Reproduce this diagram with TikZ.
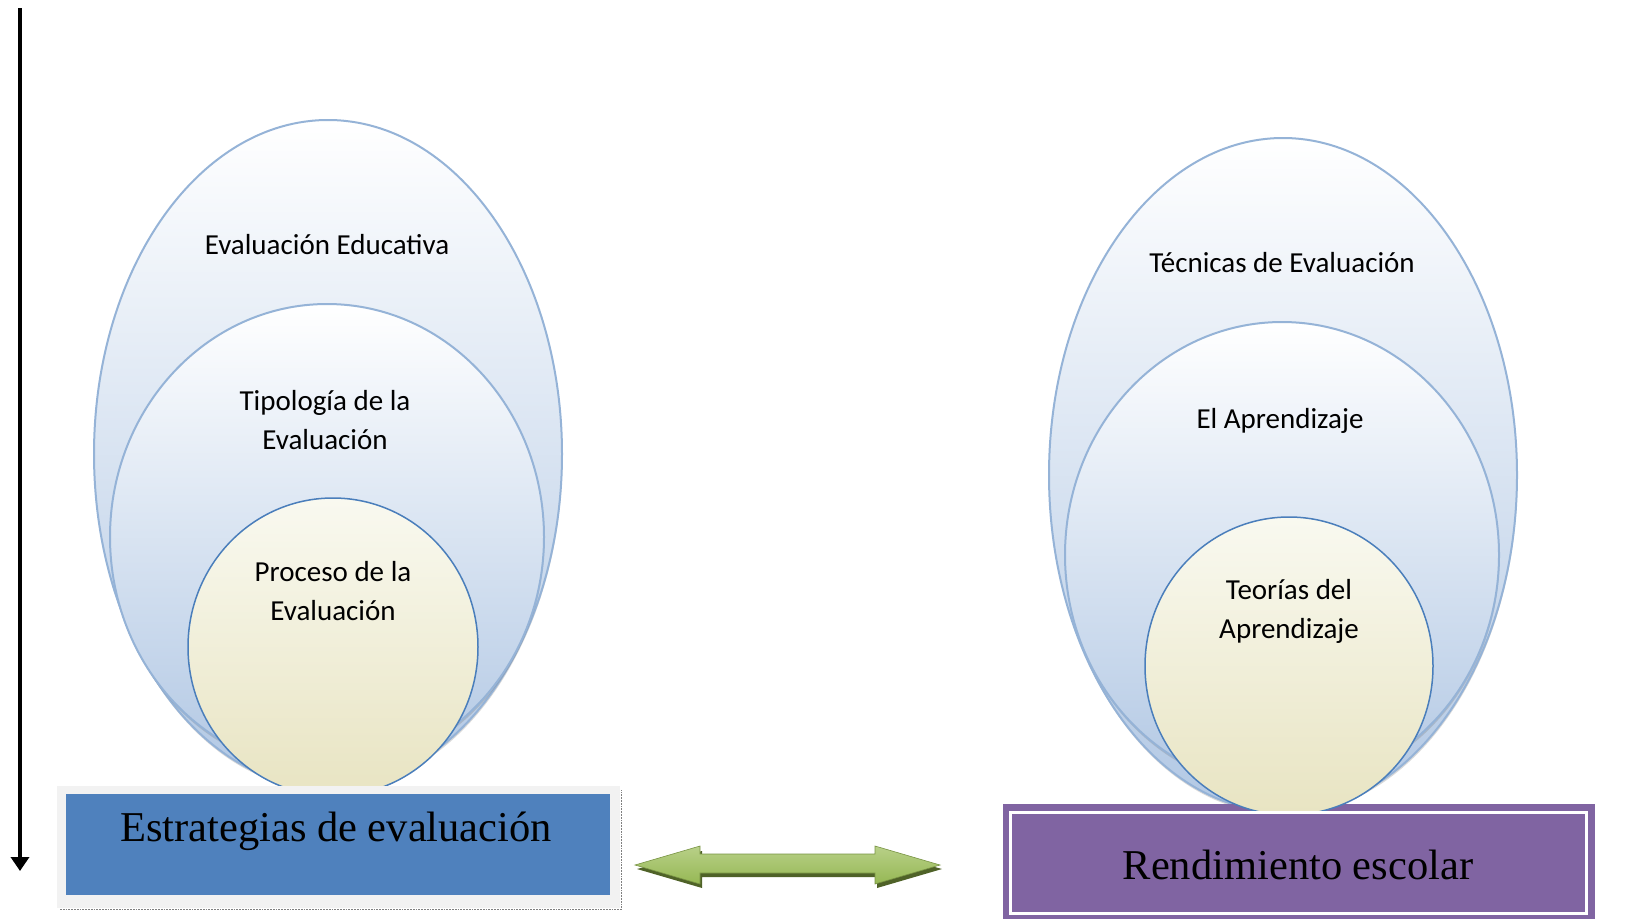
\documentclass[tikz,border=0pt]{standalone}
\usepackage{fontspec}
\setmainfont{Liberation Serif}
\newfontfamily\smartfont{Carlito}
\usetikzlibrary{shadows,arrows.meta}
\definecolor{ellstroke}{RGB}{149,179,215}
\definecolor{ellbot}{RGB}{178,200,228}
\definecolor{circtop}{RGB}{249,249,240}
\definecolor{circbot}{RGB}{232,228,194}
\definecolor{circstroke}{RGB}{74,126,187}
\definecolor{boxblue}{RGB}{79,129,189}
\definecolor{boxgray}{RGB}{242,242,242}
\definecolor{boxpurple}{RGB}{128,100,162}
\definecolor{arrlight}{RGB}{184,208,136}
\definecolor{arrmid}{RGB}{150,184,84}
\definecolor{arrdark}{RGB}{79,98,40}
\begin{document}
\begin{tikzpicture}[x=1pt,y=-1pt,
  ell/.style={draw=ellstroke,line width=2pt,top color=white,bottom color=ellbot,
    drop shadow={shadow xshift=0.5pt,shadow yshift=-2.5pt,opacity=0.3}},
  circ/.style={draw=circstroke,line width=1.5pt,top color=circtop,bottom color=circbot},
  lbl/.style={font=\smartfont\fontsize{29}{39}\selectfont,align=center,inner sep=0pt,anchor=base},
  big/.style={font=\fontsize{42.5}{50}\selectfont,inner sep=0pt,anchor=base},
  plainbox/.style={minimum width=#1,inner sep=0pt,outer sep=0pt}]
\useasboundingbox (0,0) rectangle (1636,919);
% vertical arrow
\coordinate (vtop) at (20,8);
\coordinate (vbot) at (20,871);
\draw[line width=4.8pt,-{Triangle[width=18pt,length=14pt]}] (vtop) -- (vbot);
% left stack
\path[ell] (328,454) ellipse [x radius=234pt, y radius=334pt];
\path[ell] (327,537) ellipse [x radius=217pt, y radius=233pt];
\path[circ] (333,647) ellipse [x radius=145pt, y radius=149pt];
% right stack
\path[ell] (1283,475) ellipse [x radius=234pt, y radius=337pt];
\path[ell] (1282,555) ellipse [x radius=217pt, y radius=233pt];
% labels
\node[lbl] (l1) at (327,254) {Evaluación Educativa};
\node[lbl] (l2) at (325,449) {Tipología de la\\Evaluación};
\node[lbl] (l3) at (333,620) {Proceso de la\\Evaluación};
\node[lbl] (r1) at (1282,272) {Técnicas de Evaluación};
\node[lbl] (r2) at (1280,428) {El Aprendizaje};
% left box
\node[plainbox=563pt,minimum height=122pt,fill=boxgray] (estframe) at (338.5,847) {};
\draw[gray,densely dotted,line width=1.8pt] ([shift={(3,1.5)}]estframe.south west) -- ([shift={(1.5,1.5)}]estframe.south east) -- ([shift={(1.5,4)}]estframe.north east);
\node[plainbox=544pt,minimum height=101pt,fill=boxblue] (est) at (338,844.5) {};
\node[big] (estT) at (336,841) {Estrategias de evaluación};
% right box
\node[plainbox=592pt,minimum height=115pt,fill=boxpurple] (rendframe) at (1299,861.5) {};
\path[circ] (1289,666) ellipse [x radius=144pt, y radius=149pt];
\node[lbl] (r3) at (1289,638) {Teorías del\\Aprendizaje};
\node[plainbox=576pt,minimum height=101pt,draw=white,line width=3pt,fill=boxpurple] (rend) at (1298,862.5) {};
\node[big] (rendT) at (1298,879) {Rendimiento escolar};
% green double arrow
\fill[arrdark] (637,869) -- (702,851) -- (702,859) -- (877,859) -- (877,851) -- (942,869) -- (877,888) -- (877,877) -- (702,877) -- (702,888) -- cycle;
\path[draw=arrmid!80!black,line width=0.6pt,top color=arrlight,bottom color=arrmid] (635,865) -- (700,846) -- (700,854) -- (875,854) -- (875,846) -- (940,865) -- (875,884) -- (875,873) -- (700,873) -- (700,884) -- cycle;
\end{tikzpicture}
\end{document}
